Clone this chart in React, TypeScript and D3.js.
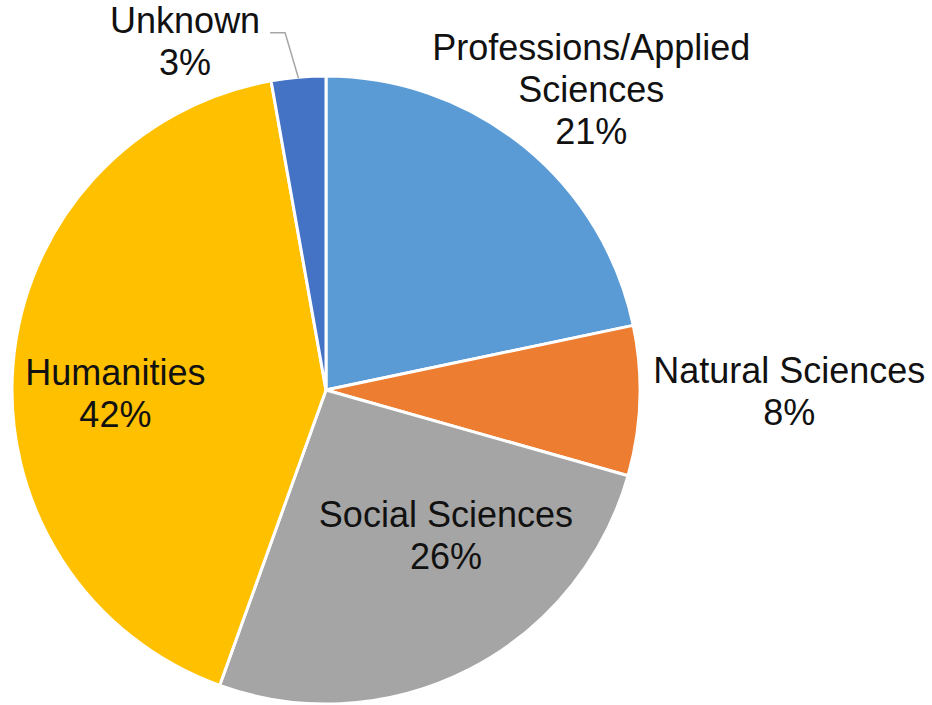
import React, { useEffect } from "react";
import * as d3 from "d3";

// chart data
const categories = [
  "Professions/Applied Sciences",
  "Natural Sciences",
  "Social Sciences",
  "Humanities",
  "Unknown",
];
const values = [21.7, 7.7, 26.1, 41.7, 2.8];
const labelLines = [
  ["Professions/Applied", "Sciences", "21%"],
  ["Natural Sciences", "8%"],
  ["Social Sciences", "26%"],
  ["Humanities", "42%"],
  ["Unknown", "3%"],
];
const colors = ["#5B9BD5", "#ED7D31", "#A5A5A5", "#FFC000", "#4472C4"];

// label placement: radius factor along mid angle, then a small nudge
const labelRadius = [1.27, 1.47, 0.62, 0.67, 1.12];
const labelNudge = [
  [14, 9],
  [2, -15],
  [31, -28],
  [-1, 21],
  [-110, 1],
];

const App = () => {
  useEffect(() => {
    document.body.style.margin = "0";
  }, []);

  const width = 932;
  const height = 705;
  const cx = 326;
  const cy = 390;
  const r = 314;
  const fontSize = 36;
  const lineH = 42;

  const pie = d3
    .pie<number>()
    .sort(null)
    .value((d) => d);
  const arcs = pie(values);
  const arc = d3.arc<d3.PieArcDatum<number>>().innerRadius(0).outerRadius(r);

  const labels = arcs.map((a, i) => {
    const mid = (a.startAngle + a.endAngle) / 2;
    const rho = r * labelRadius[i];
    const x = rho * Math.sin(mid) + labelNudge[i][0];
    const y = -rho * Math.cos(mid) + labelNudge[i][1];
    const lines = labelLines[i];
    const firstBase = y - ((lines.length - 1) * lineH) / 2 + 13;
    return { x, y, mid, lines, firstBase };
  });

  // leader line for the small "Unknown" slice
  const u = labels[4];
  const ua = u.mid;
  const leader = [
    [(r - 1) * Math.sin(ua), -(r - 1) * Math.cos(ua)],
    [u.x + 100, u.firstBase],
    [u.x + 85, u.firstBase],
  ] as [number, number][];

  return (
    <svg
      width={width}
      height={height}
      style={{ display: "block", background: "#fff" }}
      fontFamily="'Liberation Sans', Arial, sans-serif"
    >
      <g transform={`translate(${cx},${cy})`}>
        {arcs.map((a, i) => (
          <path
            key={categories[i]}
            d={arc(a) || ""}
            fill={colors[i]}
            stroke="#fff"
            strokeWidth={3}
            strokeLinejoin="round"
          />
        ))}
        <path
          d={d3.line()(leader) || ""}
          fill="none"
          stroke="#a6a6a6"
          strokeWidth={1.5}
        />
        {labels.map((l, i) => (
          <text
            key={categories[i]}
            textAnchor="middle"
            fontSize={fontSize}
            fill="#111"
          >
            {l.lines.map((t, j) => (
              <tspan key={j} x={l.x} y={l.firstBase + j * lineH}>
                {t}
              </tspan>
            ))}
          </text>
        ))}
      </g>
    </svg>
  );
};

export default App;
